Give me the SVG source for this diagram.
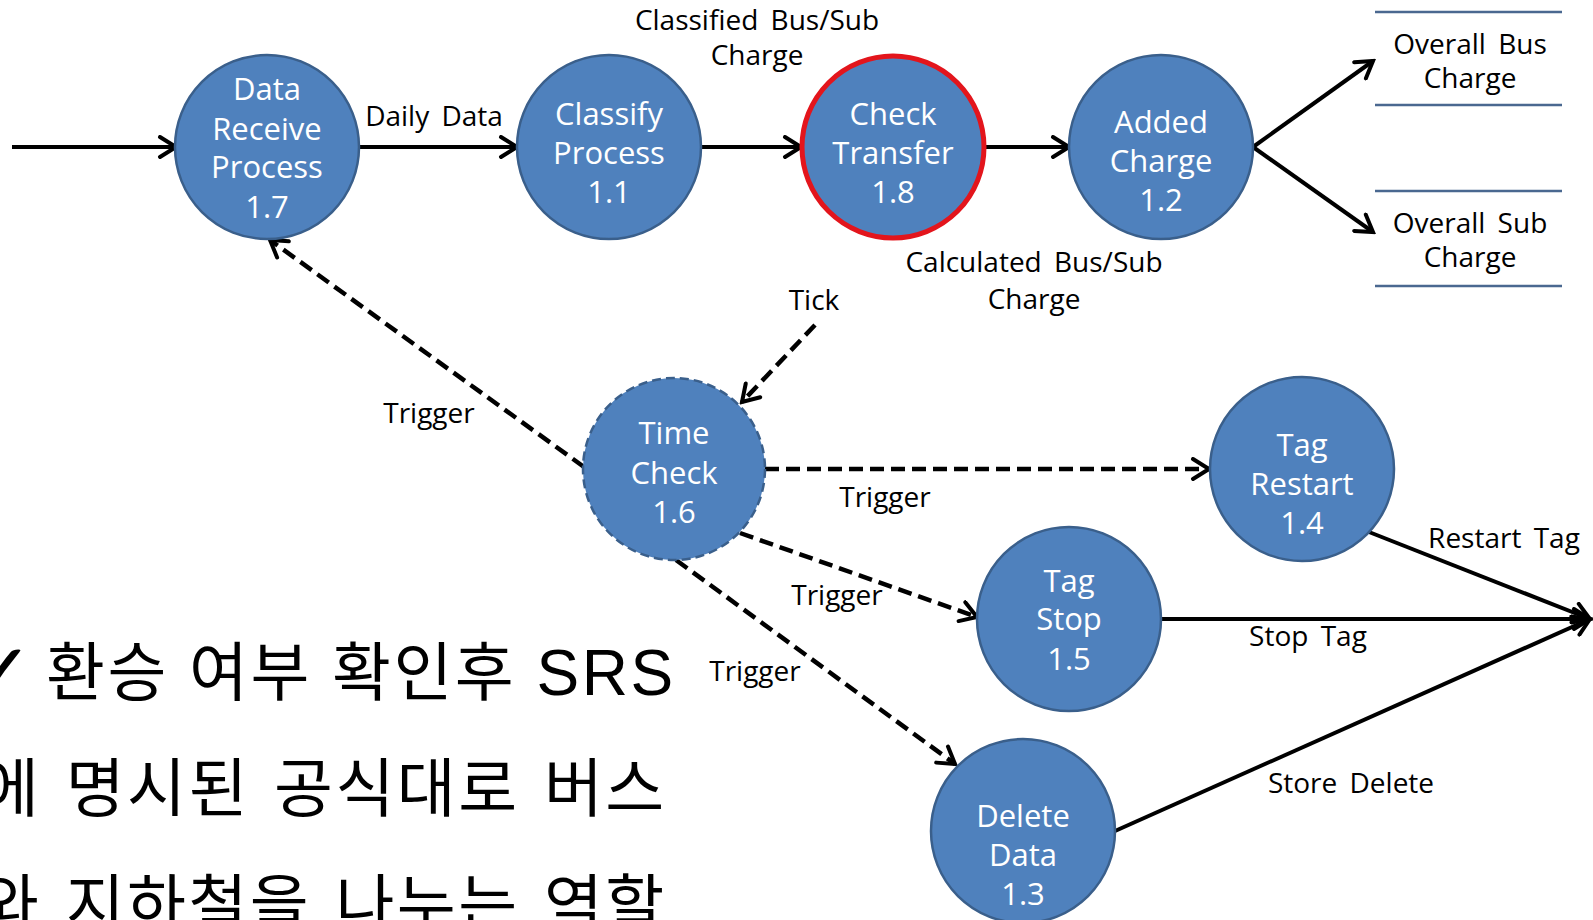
<svg xmlns="http://www.w3.org/2000/svg" width="1593" height="920" viewBox="0 0 1593 920">
<defs>
<marker id="arr" viewBox="0 0 24 24" refX="21" refY="12" markerWidth="24" markerHeight="24" markerUnits="userSpaceOnUse" orient="auto">
<path d="M5,2 L21,12 L5,22" fill="none" stroke="#000" stroke-width="4" stroke-linecap="round" stroke-linejoin="miter"/>
</marker>
</defs>
<style>
.node{fill:#4f81bd;stroke:#3a5f8b;stroke-width:2.5}
.red{fill:#4f81bd;stroke:#e3151c;stroke-width:5}
.dnode{fill:#4f81bd;stroke:#3a5f8b;stroke-width:2.5;stroke-dasharray:9 5}
.nt{font-family:"Open Sans","Noto Sans",sans-serif;font-size:31px;fill:#fff;text-anchor:middle}
.lb{font-family:"Open Sans","Noto Sans",sans-serif;font-size:28px;fill:#000;text-anchor:middle;word-spacing:5px}
.sol{stroke:#000;stroke-width:4;fill:none;marker-end:url(#arr)}
.das{stroke:#000;stroke-width:4.5;fill:none;stroke-dasharray:14 7;marker-end:url(#arr)}
.st{stroke:#4a6890;stroke-width:2.5}
.kr{font-family:"Liberation Sans","Noto Sans CJK KR",sans-serif;font-size:64px;fill:#000;letter-spacing:2.5px}
.chk{font-family:"DejaVu Sans",sans-serif;font-size:80px;fill:#000}
</style>
<rect width="1593" height="920" fill="#fff"/>

<g id="connectors">
<line class="sol" x1="12" y1="147" x2="176" y2="147"/>
<line class="sol" x1="359" y1="147" x2="517" y2="147"/>
<line class="sol" x1="701" y1="147" x2="801" y2="147"/>
<line class="sol" x1="986" y1="147" x2="1069" y2="147"/>
<line class="sol" x1="1253" y1="147" x2="1373" y2="61"/>
<line class="sol" x1="1253" y1="147" x2="1373" y2="232"/>
<line class="das" x1="584" y1="467" x2="270" y2="240"/>
<line class="das" x1="815" y1="325" x2="742" y2="402"/>
<line class="das" x1="765" y1="469" x2="1209" y2="469"/>
<line class="das" x1="740" y1="533" x2="977" y2="617"/>
<line class="das" x1="676" y1="560" x2="955" y2="764"/>
<line class="sol" x1="1369" y1="532" x2="1590" y2="619"/>
<line class="sol" x1="1161" y1="619" x2="1590" y2="619"/>
<line class="sol" x1="1115" y1="831" x2="1590" y2="619"/>
<text class="lb" x="434" y="126">Daily Data</text>
<text class="lb" x="757" y="30">Classified Bus/Sub</text>
<text class="lb" x="757" y="65">Charge</text>
<text class="lb" x="1034" y="272">Calculated Bus/Sub</text>
<text class="lb" x="1034" y="309">Charge</text>
<text class="lb" x="814" y="310">Tick</text>
<text class="lb" x="429" y="423">Trigger</text>
<text class="lb" x="885" y="507">Trigger</text>
<text class="lb" x="837" y="605">Trigger</text>
<text class="lb" x="755" y="681">Trigger</text>
<text class="lb" x="1504" y="548">Restart Tag</text>
<text class="lb" x="1308" y="646">Stop Tag</text>
<text class="lb" x="1351" y="793">Store Delete</text>
</g>

<g id="n17">
<circle class="node" cx="267" cy="147" r="92"/>
<text class="nt" x="267" y="100">Data</text>
<text class="nt" x="267" y="140">Receive</text>
<text class="nt" x="267" y="178">Process</text>
<text class="nt" x="267" y="218">1.7</text>
</g>
<g id="n11">
<circle class="node" cx="609" cy="147" r="92"/>
<text class="nt" x="609" y="125">Classify</text>
<text class="nt" x="609" y="164">Process</text>
<text class="nt" x="609" y="203">1.1</text>
</g>
<g id="n18">
<circle class="red" cx="893" cy="147" r="91"/>
<text class="nt" x="893" y="125">Check</text>
<text class="nt" x="893" y="164">Transfer</text>
<text class="nt" x="893" y="203">1.8</text>
</g>
<g id="n12">
<circle class="node" cx="1161" cy="147" r="92"/>
<text class="nt" x="1161" y="133">Added</text>
<text class="nt" x="1161" y="172">Charge</text>
<text class="nt" x="1161" y="211">1.2</text>
</g>
<g id="store-bus">
<line class="st" x1="1375" y1="12" x2="1562" y2="12" stroke-width="3.5"/>
<line class="st" x1="1375" y1="105" x2="1562" y2="105"/>
<text class="lb" x="1470" y="54">Overall Bus</text>
<text class="lb" x="1470" y="88">Charge</text>
</g>
<g id="store-sub">
<line class="st" x1="1375" y1="191" x2="1562" y2="191"/>
<line class="st" x1="1375" y1="286" x2="1562" y2="286"/>
<text class="lb" x="1470" y="233">Overall Sub</text>
<text class="lb" x="1470" y="267">Charge</text>
</g>
<g id="n16">
<circle class="dnode" cx="674" cy="469" r="91"/>
<text class="nt" x="674" y="444">Time</text>
<text class="nt" x="674" y="484">Check</text>
<text class="nt" x="674" y="523">1.6</text>
</g>
<g id="n14">
<circle class="node" cx="1302" cy="469" r="92"/>
<text class="nt" x="1302" y="456">Tag</text>
<text class="nt" x="1302" y="495">Restart</text>
<text class="nt" x="1302" y="534">1.4</text>
</g>
<g id="n15">
<circle class="node" cx="1069" cy="619" r="92"/>
<text class="nt" x="1069" y="592">Tag</text>
<text class="nt" x="1069" y="630">Stop</text>
<text class="nt" x="1069" y="670">1.5</text>
</g>
<g id="n13">
<circle class="node" cx="1023" cy="831" r="92"/>
<text class="nt" x="1023" y="827">Delete</text>
<text class="nt" x="1023" y="866">Data</text>
<text class="nt" x="1023" y="905">1.3</text>
</g>

<g id="note">
<text class="chk" x="-33" y="700">✓</text>
<text class="kr" x="46" y="695">환승 여부 확인후 SRS</text>
<text class="kr" x="-20" y="811" word-spacing="4">에 명시된 공식대로 버스</text>
<text class="kr" x="-20" y="927" word-spacing="4">와 지하철을 나누는 역할</text>
</g>
</svg>
